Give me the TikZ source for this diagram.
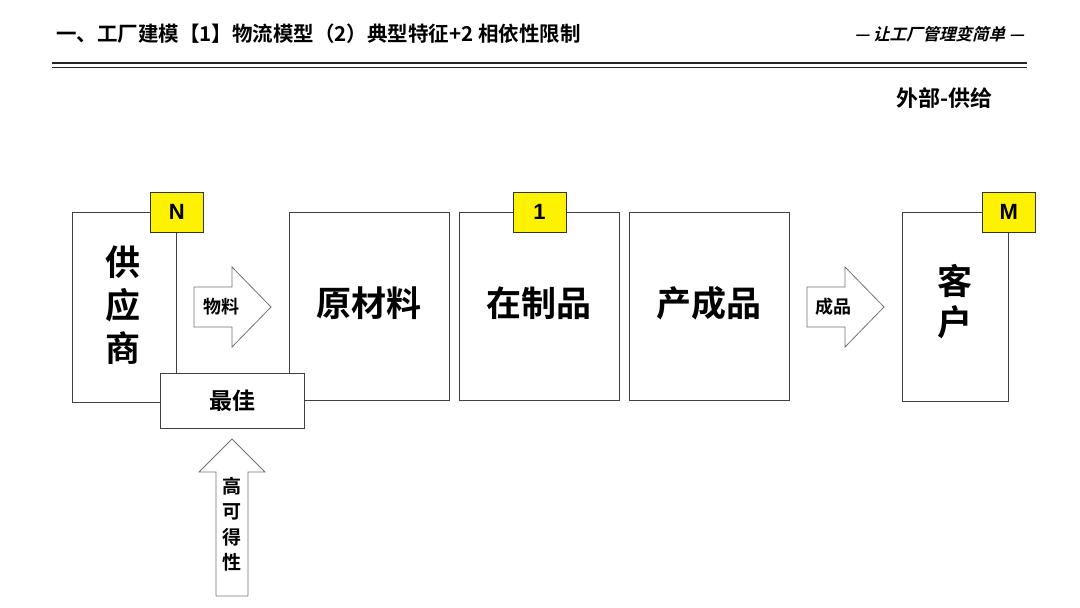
\documentclass[tikz,border=0pt]{standalone}
\usepackage{fontspec}
\setmainfont{Noto Sans CJK SC}[BoldFont={Noto Sans CJK SC Bold}]
\newfontfamily\cjkb{Noto Sans CJK SC Bold}
\newfontfamily\cjkslant{Noto Sans CJK SC Bold}[FakeSlant=0.25]
\newfontfamily\latb{Liberation Sans Bold}
\begin{document}
\begin{tikzpicture}[x=1pt,y=-1pt,
  box/.style={draw=black!75, line width=0.8pt, fill=white, rectangle, inner sep=0pt, anchor=north west},
  badge/.style={draw=black!80, line width=0.8pt, fill=yellow, minimum width=53pt, minimum height=40pt, inner sep=0pt, font=\latb\fontsize{22}{22}\selectfont},
  biglabel/.style={font=\cjkb\fontsize{35}{43}\selectfont, align=center, inner sep=0pt},
  arrowshape/.style={draw=black!55, line width=0.8pt, fill=white, line join=miter},
  small/.style={font=\cjkb\fontsize{18}{18}\selectfont}
]
\useasboundingbox (0,0) rectangle (1080,608);
\fill[white] (0,0) rectangle (1080,608);
% header
\node[anchor=west, inner sep=0pt, font=\cjkb\fontsize{20.5}{21}\selectfont] (title) at (56,34) {一、工厂建模【1】物流模型（2）典型特征+2 相依性限制};
\node[anchor=east, inner sep=0pt, font=\cjkslant\fontsize{16.5}{16.5}\selectfont] (slogan) at (1024,34) {— 让工厂管理变简单 —};
\coordinate (l1a) at (52,63); \coordinate (l1b) at (1027,63);
\coordinate (l2a) at (52,67.5); \coordinate (l2b) at (1027,67.5);
\draw[line width=1.8pt, black!85] (l1a) -- (l1b);
\draw[line width=1.4pt, black!85] (l2a) -- (l2b);
\node[anchor=east, inner sep=0pt, font=\cjkb\fontsize{22}{22}\selectfont] (ext) at (993,98) {外部-供给};
% boxes
\node[box, minimum width=104pt, minimum height=190pt] (sup) at (72,212) {};
\node[box, minimum width=160pt, minimum height=188pt] (raw) at (289,212) {};
\node[box, minimum width=160pt, minimum height=188pt] (wip) at (459,212) {};
\node[box, minimum width=160pt, minimum height=188pt] (fg) at (629,212) {};
\node[box, minimum width=106pt, minimum height=189pt] (cus) at (902,212) {};
% labels in boxes
\node[biglabel] at (123,305) {供\\应\\商};
\node[biglabel] at (369,303) {原材料};
\node[biglabel] at (539,303) {在制品};
\node[biglabel] at (709,303) {产成品};
\node[biglabel, font=\cjkb\fontsize{35}{41}\selectfont] at (955,302) {客\\户};
% badges
\node[badge] (bN) at (sup.north east) {N};
\node[badge] (b1) at (wip.north) {1};
\node[badge] (bM) at (cus.north east) {M};
% best box
\node[box, minimum width=144pt, minimum height=55pt] (best) at (160,373) {};
\node[font=\cjkb\fontsize{23}{23}\selectfont] at (best.center) {最佳};
% arrows
\draw[arrowshape] (194,287) -- (232,287) -- (232,267) -- (271,307) -- (232,347) -- (232,327) -- (194,327) -- cycle;
\node[small, anchor=west, inner sep=0pt] (wl) at (203,307) {物料};
\draw[arrowshape] (807,287) -- (845,287) -- (845,267) -- (884,307) -- (845,347) -- (845,327) -- (807,327) -- cycle;
\node[small, anchor=west, inner sep=0pt] (cp) at (815,307) {成品};
\draw[arrowshape] (216,596) -- (216,472) -- (199,472) -- (232,439) -- (265,472) -- (248,472) -- (248,596) -- cycle;
\node[font=\cjkb\fontsize{19}{25.5}\selectfont, align=center, inner sep=0pt] (avail) at (232,524) {高\\可\\得\\性};
\end{tikzpicture}
\end{document}
